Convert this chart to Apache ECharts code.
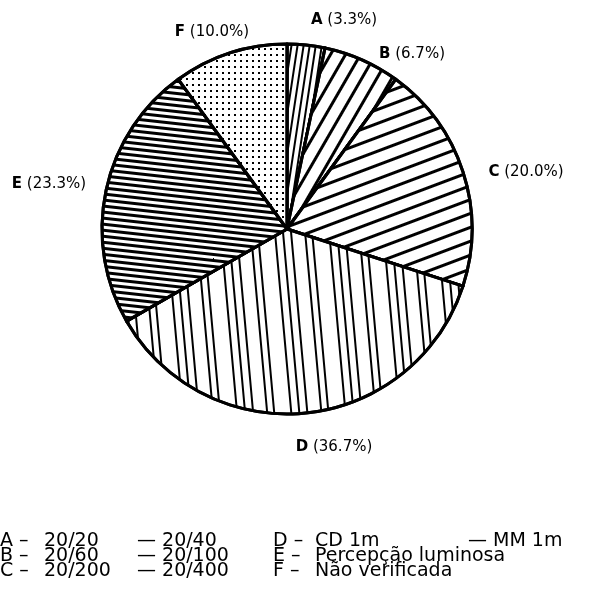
<!DOCTYPE html>
<html>
<head>
<meta charset="utf-8">
<script src="https://cdn.jsdelivr.net/npm/echarts@6/dist/echarts.min.js"></script>
<style>
  html, body { margin: 0; padding: 0; background: #fff; }
  #main { width: 590px; height: 595px; }
</style>
</head>
<body>
<div id="main"></div>
<script>
var categories = ['A', 'B', 'C', 'D', 'E', 'F'];
var values = [3.3, 6.7, 20.0, 36.7, 23.3, 10.0];
var legendRows = [
  ['A –', '20/20', '— 20/40'],
  ['B –', '20/60', '— 20/100'],
  ['C –', '20/200', '— 20/400']
];
var legendRows2 = [
  ['D –', 'CD 1m', '— MM 1m'],
  ['E –', 'Percepção luminosa', ''],
  ['F –', 'Não verificada', '']
];

// where each slice label sits (centre of text)
var labelPos = [[344, 20], [412, 54], [526, 172], [334, 447], [49, 184], [212, 32]];

var font = '"DejaVu Sans", sans-serif';

// hatch patterns for each slice
var decals = [
  { symbol: 'rect', color: '#000', dashArrayX: [1, 0], dashArrayY: [2, 4], rotation: -1.42 },
  { symbol: 'rect', color: '#000', dashArrayX: [1, 0], dashArrayY: [2.4, 10], rotation: -Math.PI / 3 },
  { symbol: 'rect', color: '#000', dashArrayX: [1, 0], dashArrayY: [2.4, 10], rotation: -0.36 },
  { symbol: 'rect', color: '#000', dashArrayX: [1, 0], dashArrayY: [2, 6, 2, 6, 2, 15, 2, 5, 2, 12], rotation: Math.PI / 2 - 0.09 },
  { symbol: 'rect', color: '#000', dashArrayX: [1, 0], dashArrayY: [2.2, 2.1], rotation: 0.11 },
  { symbol: 'rect', color: '#000', dashArrayX: [2, 4], dashArrayY: [2, 4], rotation: 0 }
];

var myChart = echarts.init(document.getElementById('main'));

var graphics = [];
function addRows(rows, xs, top) {
  rows.forEach(function (row, i) {
    row.forEach(function (txt, j) {
      if (!txt) return;
      graphics.push({
        type: 'text',
        left: xs[j],
        top: top + i * 15,
        style: { text: txt, fill: '#000', font: '19px ' + font }
      });
    });
  });
}
addRows(legendRows, [0, 44, 137], 532);
addRows(legendRows2, [273, 315, 468], 532);

var option = {
  animation: false,
  backgroundColor: '#fff',
  graphic: graphics,
  series: [
    {
      type: 'pie',
      center: [287, 229],
      radius: [0, 185],
      startAngle: 90,
      clockwise: true,
      silent: true,
      itemStyle: {
        color: '#fff',
        borderColor: '#000',
        borderWidth: 3
      },
      label: {
        show: true,
        position: 'outside',
        overflow: 'none',
        formatter: function (p) {
          return '{b|' + p.name + '} (' + values[p.dataIndex].toFixed(1) + '%)';
        },
        color: '#000',
        fontFamily: font,
        fontSize: 15,
        rich: {
          b: { fontWeight: 'bold', fontSize: 15, fontFamily: font, color: '#000' }
        }
      },
      labelLine: { show: false },
      labelLayout: function (params) {
        var p = labelPos[params.dataIndex];
        return { x: p[0], y: p[1], align: 'center', verticalAlign: 'middle' };
      },
      data: categories.map(function (c, i) {
        return { name: c, value: values[i], itemStyle: { decal: decals[i] } };
      })
    }
  ]
};
myChart.setOption(option);
</script>
</body>
</html>
